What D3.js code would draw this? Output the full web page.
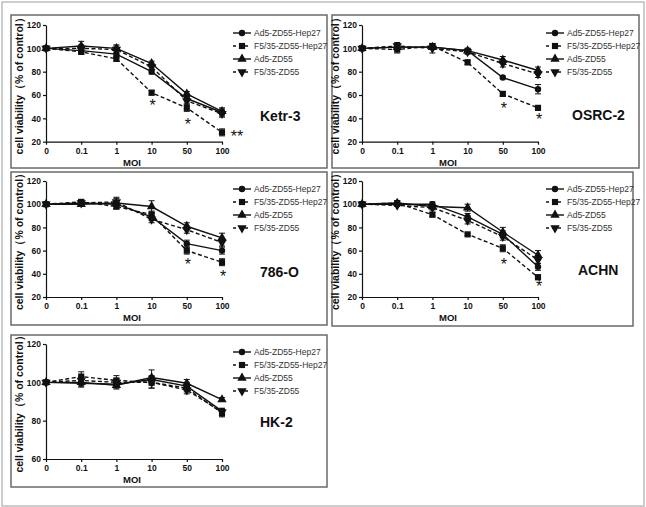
<!DOCTYPE html>
<html>
<head>
<meta charset="utf-8">
<script src="https://cdn.jsdelivr.net/npm/d3@7"></script>
<style>
  body { margin: 0; background: #fff; }
  svg { display: block; font-family: Arial, "Liberation Sans", sans-serif; }
</style>
</head>
<body>
<svg id="chart" width="646" height="507"></svg>
<script>
/* Data: order of series in every panel follows SERIES */
const MOI = ['0', '0.1', '1', '10', '50', '100'];
const SERIES = ['Ad5-ZD55-Hep27', 'F5/35-ZD55-Hep27', 'Ad5-ZD55', 'F5/35-ZD55'];

const KETR3 = [
    [100, 98, 95, 80, 57, 45],
    [100, 97, 91, 62, 49, 28],
    [100, 102, 100, 87, 61, 46],
    [100, 100, 99, 84, 55, 44]
];
const KETR3_ERR = [[0, 3, 3, 2, 2, 3], [0, 2, 2, 2, 3, 3], [0, 4, 3, 2, 2, 3], [0, 3, 3, 2, 2, 3]];
const KETR3_STARS = [['10', 53, '*'], ['50', 37, '*'], ['100', 27, '**']];

const OSRC2 = [
    [100, 101, 101, 98, 75, 65],
    [100, 99, 102, 88, 61, 49],
    [100, 101, 101, 98, 90, 81],
    [100, 102, 100, 97, 87, 78]
];
const OSRC2_ERR = [[0, 2, 2, 2, 1, 4], [0, 3, 2, 2, 2, 2], [0, 3, 2, 2, 3, 3], [0, 3, 4, 2, 3, 3]];
const OSRC2_STARS = [['50', 51, '*'], ['100', 41, '*']];

const O786 = [
    [100, 101, 100, 89, 66, 60],
    [100, 102, 98, 91, 60, 50],
    [100, 100, 101, 98, 81, 71],
    [100, 101, 102, 87, 78, 67]
];
const O786_ERR = [[0, 1, 2, 3, 3, 3], [0, 2, 2, 3, 3, 3], [0, 1, 5, 5, 3, 4], [0, 2, 3, 3, 3, 3]];
const O786_STARS = [['50', 50, '*'], ['100', 40, '*']];

const ACHN = [
    [100, 100, 100, 89, 74, 46],
    [100, 101, 91, 74, 62, 37],
    [100, 101, 98, 97, 76, 56],
    [100, 99, 97, 86, 72, 52]
];
const ACHN_ERR = [[0, 1, 2, 3, 3, 3], [0, 2, 2, 1, 3, 2], [0, 1, 2, 3, 4, 4], [0, 1, 2, 3, 3, 3]];
const ACHN_STARS = [['50', 50, '*'], ['100', 31, '*']];

const HK2 = [
    [100, 99.5, 99, 101.5, 98, 85],
    [100, 103, 101, 100, 97, 84],
    [100, 100, 98.5, 102.5, 99.5, 91],
    [100, 101, 100, 100, 96, 84.5]
];
const HK2_ERR = [[0, 2, 2, 2, 2, 1], [0, 2.5, 2.5, 3, 2, 2], [0, 2, 2, 4, 2, 1], [0, 2, 2, 3, 2, 2]];
const HK2_STARS = [];

const Y_TICKS = [20, 40, 60, 80, 100, 120];
const Y_TICKS_HK2 = [60, 80, 100, 120];

/* Layout */
const PANELS = [
    { name: 'Ketr-3', data: KETR3, err: KETR3_ERR, stars: KETR3_STARS, ticks: Y_TICKS,
      box: [11, 15, 316, 153], ax: 46, top: 25, bot: 141.7, label: [260, 121], legX: 242 },
    { name: 'OSRC-2', data: OSRC2, err: OSRC2_ERR, stars: OSRC2_STARS, ticks: Y_TICKS,
      box: [332, 15, 307, 153], ax: 362, top: 25, bot: 141.7, label: [572, 120], legX: 555 },
    { name: '786-O', data: O786, err: O786_ERR, stars: O786_STARS, ticks: Y_TICKS,
      box: [11, 172, 316, 153], ax: 46, top: 181, bot: 297, label: [260, 277], legX: 242 },
    { name: 'ACHN', data: ACHN, err: ACHN_ERR, stars: ACHN_STARS, ticks: Y_TICKS,
      box: [332, 172, 301, 154], ax: 362, top: 181, bot: 297, label: [578, 275], legX: 555 },
    { name: 'HK-2', data: HK2, err: HK2_ERR, stars: HK2_STARS, ticks: Y_TICKS_HK2,
      box: [11, 335, 316, 152], ax: 46, top: 344, bot: 459, label: [260, 427], legX: 242 }
];

const SYMBOLS = [
    { type: d3.symbolCircle, size: 32, rot: 0 },
    { type: d3.symbolSquare, size: 38, rot: 0 },
    { type: d3.symbolTriangle, size: 38, rot: 0 },
    { type: d3.symbolTriangle, size: 38, rot: 180 }
];
const DASHES = [null, '4,2.5', null, '4,2.5'];
const INK = '#111';

const svg = d3.select('#chart');

// outer frame
svg.append('rect')
    .attr('x', 2).attr('y', 2).attr('width', 642).attr('height', 504)
    .attr('fill', '#fff').attr('stroke', '#bdbdbd').attr('stroke-width', 1.5);

PANELS.forEach(p => {
    const g = svg.append('g');

    g.append('rect')
        .attr('x', p.box[0]).attr('y', p.box[1]).attr('width', p.box[2]).attr('height', p.box[3])
        .attr('fill', '#fff').attr('stroke', '#6a6a6a').attr('stroke-width', 1.5);

    const x = d3.scalePoint().domain(MOI).range([p.ax, p.ax + 176]).padding(0);
    const y = d3.scaleLinear().domain([p.ticks[0], p.ticks[p.ticks.length - 1]]).range([p.bot, p.top]);

    // axes
    const xAxis = g.append('g')
        .attr('transform', `translate(0,${p.bot})`)
        .call(d3.axisBottom(x).tickSize(3).tickSizeOuter(0).tickPadding(3));
    const yAxis = g.append('g')
        .attr('transform', `translate(${p.ax},0)`)
        .call(d3.axisLeft(y).tickValues(p.ticks).tickSize(3).tickSizeOuter(0).tickPadding(2));
    [xAxis, yAxis].forEach(a => {
        a.selectAll('path, line').attr('stroke', INK).attr('stroke-width', 1.2);
        a.selectAll('text').attr('fill', INK).style('font-size', '8.5px').style('font-weight', 'bold');
    });

    g.append('text')
        .attr('x', p.ax + 86).attr('y', p.bot + 24)
        .attr('text-anchor', 'middle')
        .attr('fill', INK).style('font-size', '9.5px').style('font-weight', 'bold')
        .text('MOI');

    g.append('text')
        .attr('transform', `translate(${p.ax - 23},${(p.top + p.bot) / 2}) rotate(-90)`)
        .attr('text-anchor', 'middle')
        .attr('fill', INK).style('font-size', '10.5px').style('font-weight', 'bold')
        .text('cell viability（% of control）');

    // series
    const line = d3.line().x((d, i) => x(MOI[i])).y(d => y(d));
    p.data.forEach((vals, s) => {
        g.append('path')
            .attr('d', line(vals))
            .attr('fill', 'none').attr('stroke', INK).attr('stroke-width', 1.4)
            .attr('stroke-dasharray', DASHES[s]);

        const eg = g.append('g').attr('stroke', INK).attr('stroke-width', 1);
        vals.forEach((v, i) => {
            const e = p.err[s][i];
            if (!e) return;
            const cx = x(MOI[i]);
            eg.append('line').attr('x1', cx).attr('x2', cx).attr('y1', y(v - e)).attr('y2', y(v + e));
            eg.append('line').attr('x1', cx - 3).attr('x2', cx + 3).attr('y1', y(v + e)).attr('y2', y(v + e));
            eg.append('line').attr('x1', cx - 3).attr('x2', cx + 3).attr('y1', y(v - e)).attr('y2', y(v - e));
        });

        const sym = SYMBOLS[s];
        g.selectAll(null).data(vals).enter().append('path')
            .attr('d', d3.symbol().type(sym.type).size(sym.size))
            .attr('transform', (d, i) => `translate(${x(MOI[i])},${y(d)}) rotate(${sym.rot})`)
            .attr('fill', INK);
    });

    // significance marks
    g.selectAll(null).data(p.stars).enter().append('text')
        .attr('x', d => x(d[0]) + (d[2] === '**' ? 15 : 1))
        .attr('y', d => y(d[1]) + 8)
        .attr('text-anchor', 'middle')
        .attr('fill', INK).style('font-size', '16px')
        .text(d => d[2]);

    // legend
    SERIES.forEach((name, s) => {
        const ly = p.top + 8 + s * 13;
        g.append('line')
            .attr('x1', p.legX - 9).attr('x2', p.legX + 9).attr('y1', ly).attr('y2', ly)
            .attr('stroke', INK).attr('stroke-width', 1.4)
            .attr('stroke-dasharray', DASHES[s] ? '3,3' : null);
        const sym = SYMBOLS[s];
        g.append('path')
            .attr('d', d3.symbol().type(sym.type).size(sym.size)())
            .attr('transform', `translate(${p.legX},${ly}) rotate(${sym.rot})`)
            .attr('fill', INK);
        g.append('text')
            .attr('x', p.legX + 12).attr('y', ly + 3)
            .attr('fill', '#333').style('font-size', '8.5px')
            .text(name);
    });

    g.append('text')
        .attr('x', p.label[0]).attr('y', p.label[1])
        .attr('fill', INK).style('font-size', '14px').style('font-weight', 'bold')
        .text(p.name);
});
</script>
</body>
</html>
